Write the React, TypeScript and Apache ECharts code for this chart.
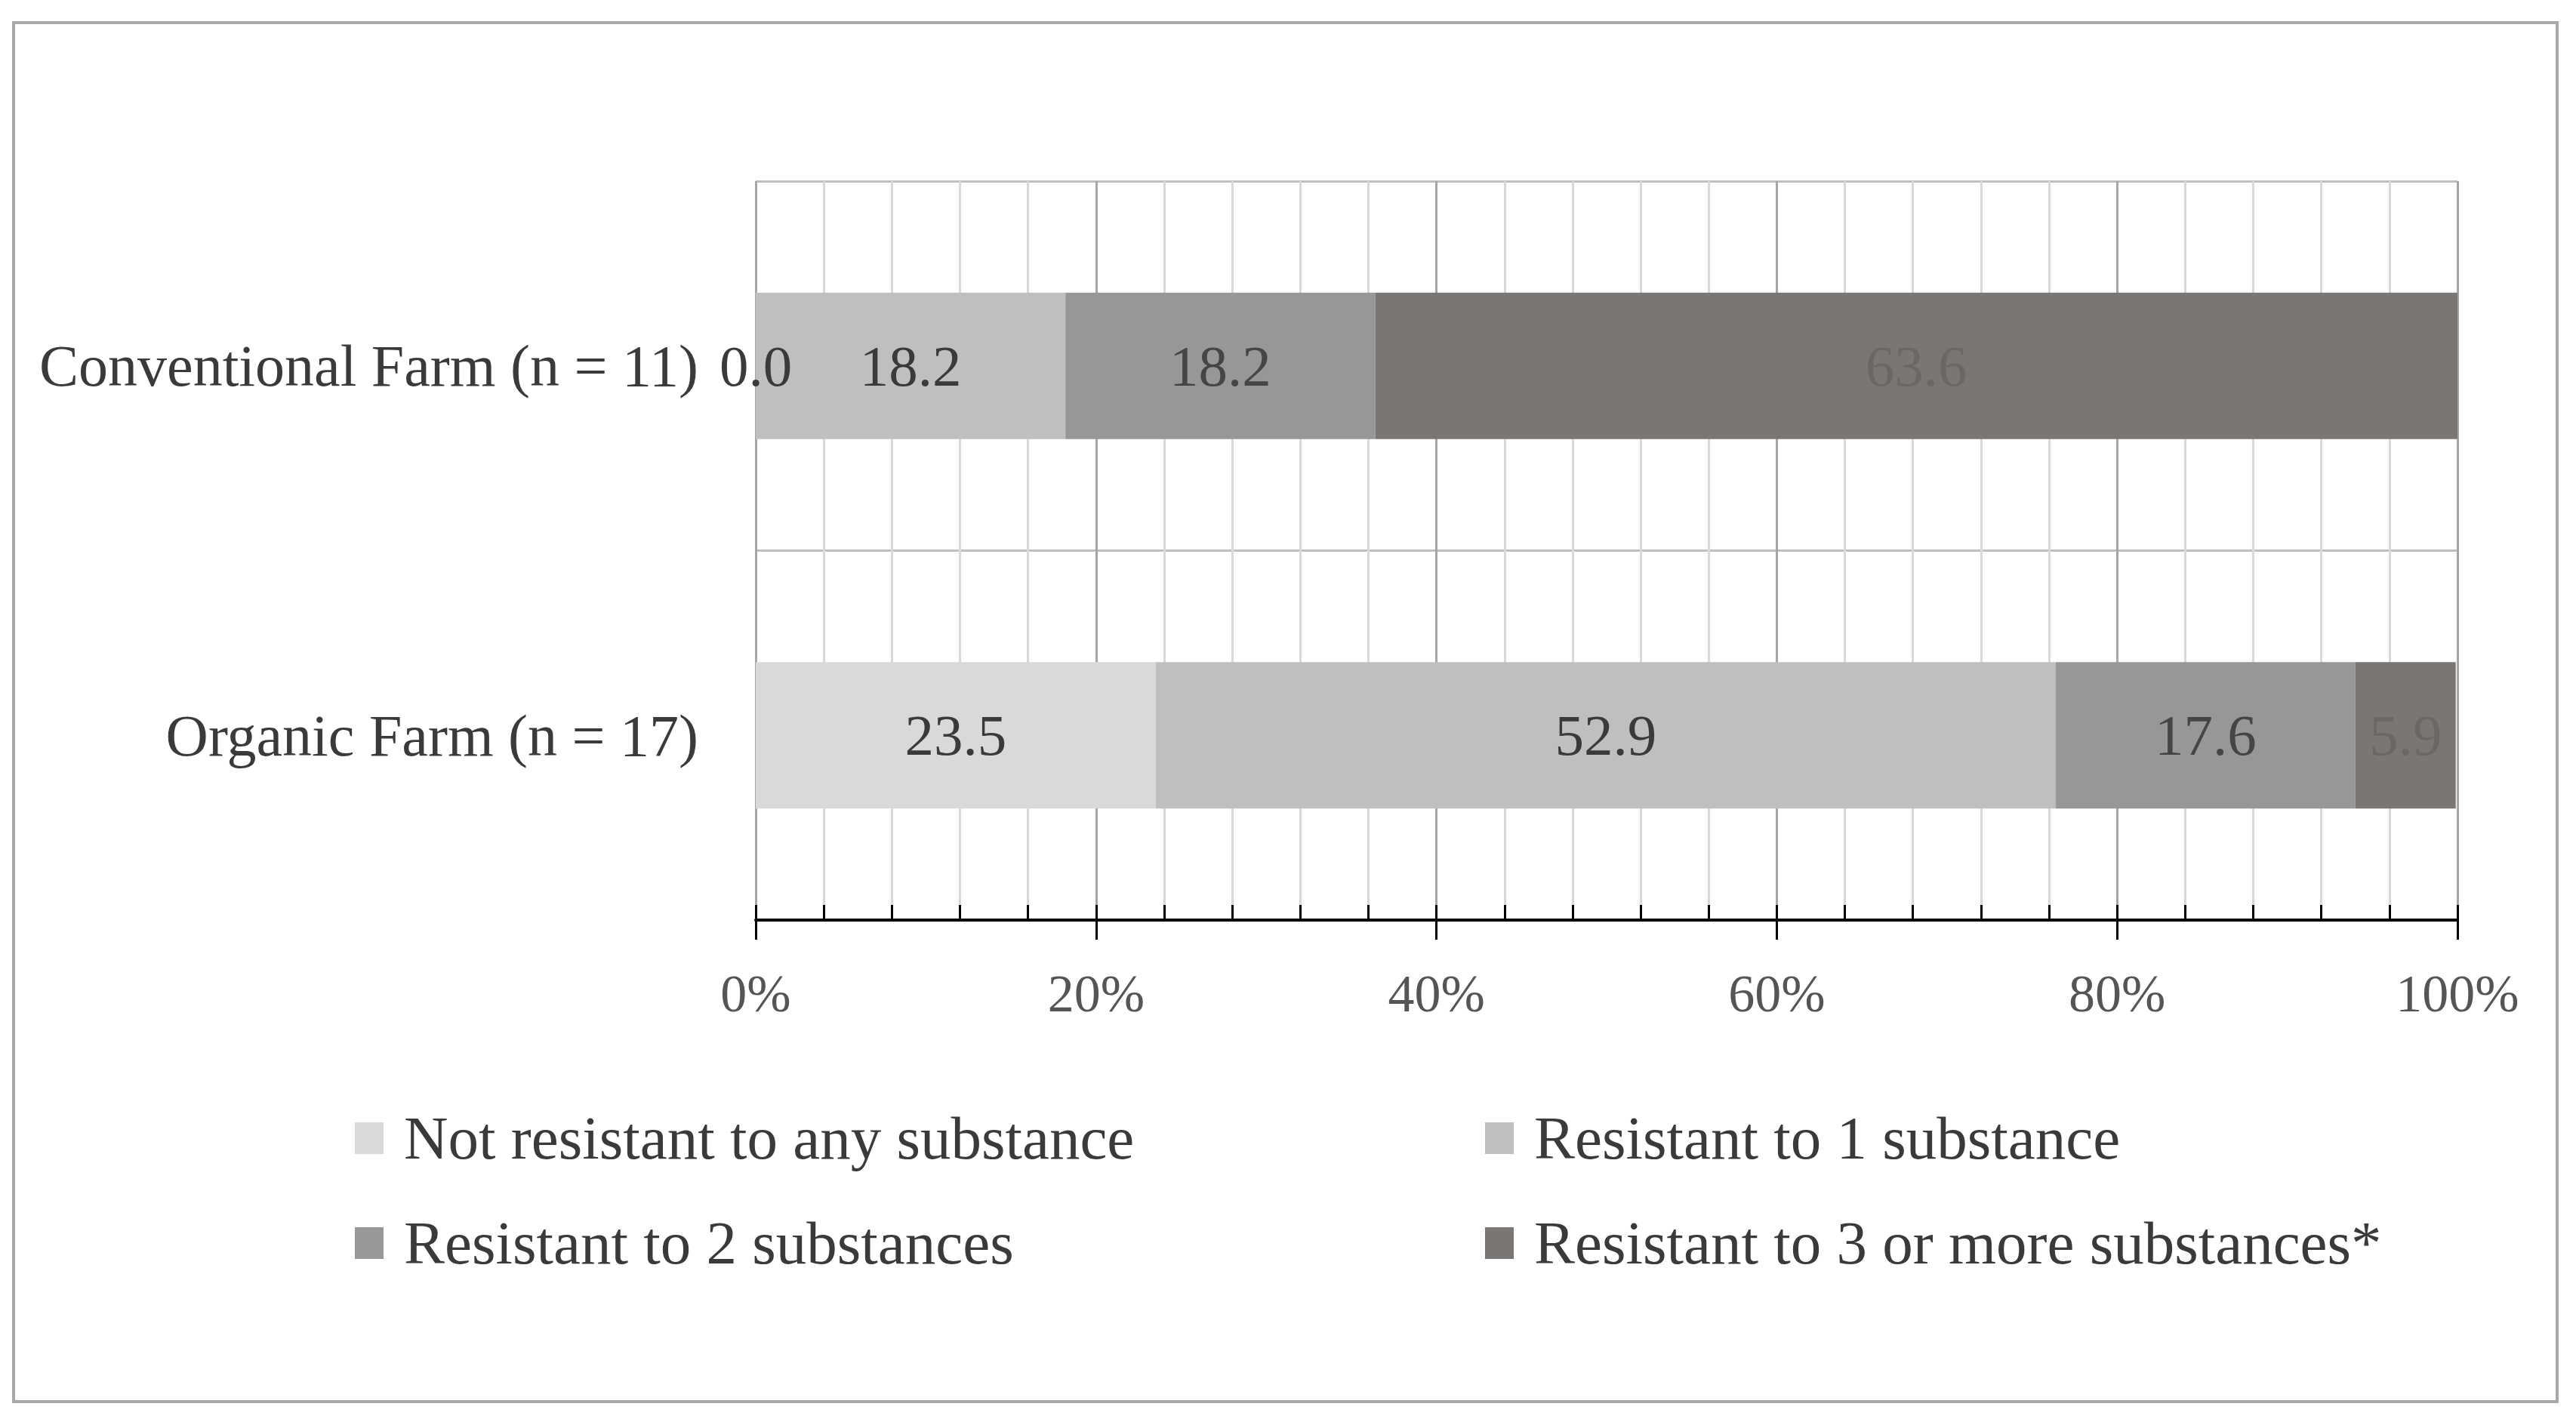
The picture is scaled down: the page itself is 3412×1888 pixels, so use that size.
import React, { useEffect, useRef } from "react";
import * as echarts from "echarts";

const categories = ["Conventional Farm (n = 11)", "Organic Farm (n = 17)"];
const seriesNames = [
  "Not resistant to any substance",
  "Resistant to 1 substance",
  "Resistant to 2 substances",
  "Resistant to 3 or more substances*",
];
const notResistant = [0.0, 23.5];
const resistant1 = [18.2, 52.9];
const resistant2 = [18.2, 17.6];
const resistant3 = [63.6, 5.9];
const seriesValues = [notResistant, resistant1, resistant2, resistant3];
const colors = ["#d9d9d9", "#bfbfbf", "#979797", "#7a7674"];
const labelColors = ["#3a3a3a", "#3a3a3a", "#454545", "#6b6765"];

const FONT = "'Liberation Serif', 'DejaVu Serif', serif";

export default function App() {
  const ref = useRef<HTMLDivElement>(null);
  useEffect(() => {
    document.body.style.margin = "0";
    const chart = echarts.init(ref.current!, null, { renderer: "svg" });
    const legendText = { fontSize: 81, color: "#3a3a3a", fontFamily: FONT, lineHeight: 82, padding: [0, 0, 0, 22] };
    const option: any = {
      animation: false,
      backgroundColor: "#ffffff",
      textStyle: { fontFamily: FONT },
      graphic: [
        {
          type: "rect",
          shape: { x: 18, y: 30, width: 3369, height: 1827 },
          style: { fill: "none", stroke: "#a8a8a8", lineWidth: 4 },
          silent: true,
        },
      ],
      grid: { left: 1001, right: 157, top: 240, bottom: 669, containLabel: false },
      legend: [
        {
          left: 470,
          top: 1467,
          padding: 0,
          orient: "vertical",
          icon: "rect",
          itemWidth: 38,
          itemHeight: 42,
          itemGap: 57,
          data: [seriesNames[0], seriesNames[2]],
          textStyle: legendText,
        },
        {
          left: 1967,
          top: 1467,
          padding: 0,
          orient: "vertical",
          icon: "rect",
          itemWidth: 38,
          itemHeight: 42,
          itemGap: 57,
          data: [seriesNames[1], seriesNames[3]],
          textStyle: legendText,
        },
      ],
      xAxis: [
        {
          type: "value",
          min: 0,
          max: 100,
          interval: 20,
          position: "bottom",
          axisLine: { show: true, lineStyle: { color: "#000000", width: 4 } },
          axisTick: { show: true, inside: false, length: 26, lineStyle: { color: "#000000", width: 3 } },
          minorTick: { show: false, splitNumber: 5 },
          axisLabel: {
            formatter: "{value}%",
            fontSize: 70,
            color: "#555555",
            margin: 62,
            fontFamily: FONT,
          },
          splitLine: { show: true, lineStyle: { color: "#a6a6a6", width: 3 } },
          minorSplitLine: { show: true, lineStyle: { color: "#d9d9d9", width: 3 } },
        },
        {
          type: "value",
          min: 0,
          max: 100,
          interval: 20,
          position: "bottom",
          axisLine: { show: false },
          axisTick: { show: true, inside: true, length: 20, lineStyle: { color: "#000000", width: 3 } },
          minorTick: { show: true, splitNumber: 5, length: 20, lineStyle: { color: "#000000", width: 3 } },
          axisLabel: { show: false },
          splitLine: { show: false },
        },
      ],
      yAxis: {
        type: "category",
        inverse: true,
        data: categories,
        axisLine: { show: false },
        axisTick: { show: false },
        axisLabel: { fontSize: 78, color: "#3a3a3a", margin: 76, fontFamily: FONT },
        splitLine: { show: true, lineStyle: { color: "#bfbfbf", width: 3 } },
      },
      series: seriesNames.map((name, i) => ({
        name,
        type: "bar",
        stack: "total",
        xAxisIndex: 0,
        barWidth: 194,
        data: seriesValues[i],
        itemStyle: { color: colors[i] },
        label: {
          show: true,
          position: "inside",
          formatter: (p: any) => Number(p.value).toFixed(1),
          fontSize: 77,
          color: labelColors[i],
          fontFamily: FONT,
        },
      })),
    };
    chart.setOption(option);
    return () => chart.dispose();
  }, []);
  return <div ref={ref} style={{ width: 3412, height: 1888 }} />;
}
